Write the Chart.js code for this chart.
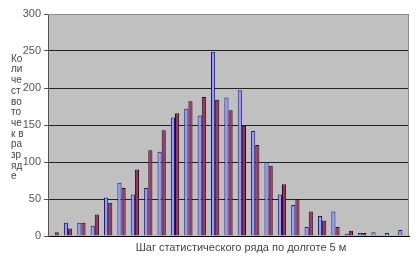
<!DOCTYPE html>
<html>
<head>
<meta charset="utf-8">
<script src="https://cdn.jsdelivr.net/npm/chart.js@4"></script>
<style>
  html, body { margin: 0; padding: 0; background: #fff; }
  #wrap { width: 416px; height: 263px; }
</style>
</head>
<body>
<div id="wrap"><canvas id="chart" width="416" height="263"></canvas></div>
<script>
// шаги статистического ряда (подписи скрыты)
const steps = ["1","2","3","4","5","6","7","8","9","10","11","12","13","14",
  "15","16","17","18","19","20","21","22","23","24","25","26","27"];

const series1 = [1, 18, 18, 14, 52, 72, 56, 65, 114, 160, 172, 163, 249, 187,
  197, 142, 100, 56, 42, 12, 27, 33, 3, 4, 5, 4, 8];
const series2 = [5, 10, 18, 29, 45, 65, 90, 116, 143, 166, 182, 188, 184, 170,
  149, 123, 95, 70, 50, 33, 21, 12, 7, 4, 1, 0, 0];

const yTicks = [0, 50, 100, 150, 200, 250, 300];

const yTitleLines = ["Ко", "ли", "че", "ст", "во", "то", "че", "к в", "ра", "зр", "яд", "е"];
const xTitle = "Шаг статистического ряда по долготе 5 м";

const FONT = '"Liberation Sans", Arial, sans-serif';

const plotBg = {
  id: "plotBg",
  beforeDraw(chart) {
    const { ctx, chartArea: a } = chart;
    ctx.save();
    ctx.fillStyle = "#c0c0c0";
    ctx.fillRect(a.left, a.top, a.right - a.left, a.bottom - a.top);
    ctx.restore();
  },
  afterDatasetsDraw(chart) {
    const { ctx, chartArea: a } = chart;
    ctx.save();
    ctx.strokeStyle = "#8a8a8a";
    ctx.lineWidth = 1;
    ctx.beginPath();
    ctx.moveTo(a.left, a.top + 0.5);
    ctx.lineTo(a.right - 0.5, a.top + 0.5);
    ctx.lineTo(a.right - 0.5, a.bottom);
    ctx.stroke();
    ctx.restore();
  }
};

const titles = {
  id: "titles",
  afterDraw(chart) {
    const { ctx } = chart;
    ctx.save();
    ctx.fillStyle = "#444";
    ctx.font = "10px " + FONT;
    ctx.textAlign = "left";
    ctx.textBaseline = "middle";
    yTitleLines.forEach((t, i) => ctx.fillText(t, 11, 59 + i * 10.7));
    ctx.font = "11px " + FONT;
    ctx.textAlign = "center";
    ctx.fillText(xTitle, 241, 248);
    ctx.restore();
  }
};

new Chart(document.getElementById("chart"), {
  type: "bar",
  data: {
    labels: steps,
    datasets: [
      {
        label: "Ряд 1",
        data: series1,
        backgroundColor: "#9999ff",
        borderColor: "#1a1a70",
        borderWidth: 1,
        borderSkipped: "bottom"
      },
      {
        label: "Ряд 2",
        data: series2,
        backgroundColor: "#993366",
        borderColor: "#2a0a18",
        borderWidth: 1,
        borderSkipped: "bottom"
      }
    ]
  },
  options: {
    responsive: false,
    animation: false,
    layout: { padding: { left: 0, right: 7, top: 14, bottom: 0 } },
    datasets: { bar: { categoryPercentage: 0.62, barPercentage: 1 } },
    plugins: {
      legend: { display: false },
      tooltip: { enabled: false }
    },
    scales: {
      x: {
        grid: { display: false },
        ticks: { display: false },
        border: { color: "#000", width: 1 },
        afterFit(scale) { scale.height = 27; }
      },
      y: {
        min: 0,
        max: 300,
        afterBuildTicks(scale) { scale.ticks = yTicks.map(v => ({ value: v })); },
        ticks: {
          color: "#555",
          font: { family: FONT, size: 11 },
          padding: 3
        },
        grid: {
          color: ctx => (ctx.tick && ctx.tick.value === 300 ? "#8a8a8a" : "#222"),
          tickColor: "#555",
          tickLength: 4
        },
        border: { color: "#555", width: 1 },
        afterFit(scale) { scale.width = 48; }
      }
    }
  },
  plugins: [plotBg, titles]
});
</script>
</body>
</html>
